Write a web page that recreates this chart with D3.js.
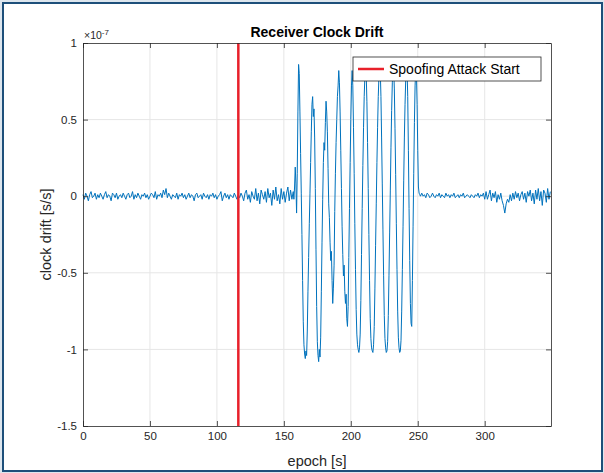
<!DOCTYPE html>
<html>
<head>
<meta charset="utf-8">
<script src="https://cdn.jsdelivr.net/npm/d3@7"></script>
<style>
  html, body { margin: 0; padding: 0; background: #dde6ee; }
  svg { display: block; }
</style>
</head>
<body>
<div id="chart"></div>
<script>
// Receiver clock drift (x 1e-7 s/s) vs epoch, with spoofing start marker

// quiet part before the attack, 1 sample per second, epochs 0..156
const preAttack = [
  0.01, -0.02, 0.02, 0.00, -0.03, 0.01, 0.03, -0.01, 0.00, 0.02,
  -0.02, 0.01, -0.01, 0.02, 0.00, -0.02, 0.01, 0.03, -0.01, 0.01,
  0.00, -0.03, 0.02, 0.01, -0.01, 0.02, -0.02, 0.00, 0.01, -0.01,
  0.02, 0.00, -0.02, 0.01, 0.02, -0.01, 0.00, 0.03, -0.02, 0.01,
  -0.01, 0.02, 0.00, -0.02, 0.01, 0.00, 0.02, -0.01, 0.01, -0.02,
  0.00, 0.02, 0.01, -0.01, 0.03, -0.02, 0.01, 0.00, 0.02, -0.01,
  0.04, 0.01, 0.05, -0.01, 0.02, 0.00, -0.02, 0.01, 0.00, -0.01,
  0.02, -0.02, 0.01, 0.00, 0.02, -0.01, 0.01, -0.02, 0.00, 0.02,
  -0.01, 0.01, 0.00, -0.03, 0.01, 0.02, -0.01, 0.00, 0.01, -0.02,
  0.02, 0.00, -0.01, 0.01, -0.02, 0.01, 0.00, 0.02, -0.01, 0.01,
  -0.02, 0.00, 0.01, 0.03, -0.03, 0.00, 0.02, -0.01, 0.01, -0.02,
  0.01, 0.00, -0.01, 0.02, 0.00, -0.02, 0.01, -0.01, 0.02, 0.00,
  -0.03, 0.02, 0.04, -0.02, 0.01, -0.04, 0.03, 0.00, -0.02, 0.05,
  -0.03, 0.02, -0.05, 0.04, 0.01, -0.02, 0.03, -0.04, 0.05, -0.01,
  0.02, -0.06, 0.04, -0.02, 0.06, -0.03, 0.01, -0.05, 0.05, -0.02,
  0.03, -0.04, 0.02, 0.06, -0.03, 0.04, -0.02
];
const preStart = 0, preStep = 1;

// oscillating part during the attack, every 0.5 s, epochs 157..252
const attack = [
  0.03, -0.02, 0.06, 0.19, 0.08, -0.11, 0.15, 0.55, 0.86, 0.80,
  0.55, 0.28, 0.02, -0.25, -0.55, -0.82, -0.97, -1.03, -1.06, -1.01,
  -1.04, -0.88, -0.62, -0.40, -0.18, 0.02, 0.22, 0.42, 0.60, 0.65,
  0.52, 0.57, 0.38, 0.05, -0.35, -0.72, -0.95, -1.04, -1.08, -1.00,
  -1.05, -0.92, -0.62, -0.30, -0.02, 0.22, 0.35, 0.30, 0.48, 0.62,
  0.55, 0.42, 0.18, -0.05, -0.14, -0.30, -0.42, -0.36, -0.55, -0.70,
  -0.60, -0.45, -0.10, 0.15, 0.35, 0.50, 0.65, 0.72, 0.82, 0.74,
  0.55, 0.30, 0.05, -0.20, -0.38, -0.52, -0.45, -0.62, -0.70, -0.64,
  -0.80, -0.85, -0.72, -0.40, -0.08, 0.22, 0.50, 0.72, 0.82, 0.72,
  0.45, 0.15, -0.18, -0.48, -0.74, -0.90, -0.97, -1.00, -1.02, -0.99,
  -0.90, -0.68, -0.38, -0.08, 0.20, 0.45, 0.65, 0.78, 0.84, 0.80,
  0.62, 0.35, 0.05, -0.25, -0.55, -0.80, -0.93, -0.99, -1.01, -1.02,
  -0.97, -0.85, -0.60, -0.32, -0.05, 0.22, 0.45, 0.65, 0.78, 0.84,
  0.82, 0.65, 0.38, 0.08, -0.22, -0.52, -0.78, -0.93, -0.99, -1.02,
  -1.01, -0.95, -0.78, -0.52, -0.24, 0.04, 0.32, 0.56, 0.74, 0.83,
  0.84, 0.70, 0.44, 0.14, -0.18, -0.48, -0.75, -0.92, -0.99, -1.02,
  -1.01, -0.94, -0.75, -0.48, -0.20, 0.10, 0.38, 0.60, 0.76, 0.84,
  0.83, 0.65, 0.30, -0.08, -0.42, -0.70, -0.83, -0.85, -0.55, -0.20,
  0.15, 0.48, 0.72, 0.84, 0.80, 0.60, 0.30, 0.06, 0.02, 0.01,
  0.00
];
const attackStart = 157, attackStep = 0.5;

// after the attack, 1 sample per second, epochs 253..349
const postAttack = [
  0.02, 0.00, 0.01, -0.01, 0.02, 0.01, -0.01, 0.00, 0.02, 0.00,
  -0.01, 0.01, 0.00, 0.02, -0.01, 0.01, 0.00, -0.01, 0.02, 0.00,
  0.01, -0.01, 0.01, 0.00, 0.02, -0.01, 0.00, 0.01, -0.01, 0.01,
  0.00, 0.02, -0.01, 0.00, 0.01, 0.00, -0.01, 0.01, 0.00, -0.01,
  0.01, 0.00, 0.02, -0.01, 0.01, 0.00, 0.02, -0.02,
  0.03, -0.02, 0.01, 0.04, -0.03, 0.02, -0.01, 0.03, -0.04, 0.01,
  -0.02, 0.02, -0.03, -0.06, -0.11, -0.05, -0.02, -0.04, 0.01, -0.03,
  0.02, -0.02, 0.03, -0.01, 0.02, -0.03, 0.01, 0.03, -0.02, 0.02,
  -0.04, 0.03, 0.00, 0.04, -0.03, 0.02, -0.05, 0.04, -0.02, 0.05,
  -0.03, 0.03, -0.06, 0.04, 0.02, -0.04, 0.05, -0.02, 0.03
];
const postStart = 253, postStep = 1;

const attackEpoch = 116;
const xTicks = [0, 50, 100, 150, 200, 250, 300];
const yTicks = [-1.5, -1, -0.5, 0, 0.5, 1];
const xDomain = [0, 349.5];
const yDomain = [-1.5, 1];

const palette = {
  frame: '#1d4f7a',
  axis: '#262626',
  grid: '#e6e6e6',
  line: '#0072bd',
  attack: '#e8202a',
  text: '#262626'
};
const FONT = '"Liberation Sans", Arial, Helvetica, sans-serif';

const W = 604, H = 473;
const plot = { left: 83, right: 551, top: 43, bottom: 426 };

function toPoints(vals, start, step) {
  return vals.map((v, i) => ({ t: start + i * step, v: v }));
}
const series = [].concat(
  toPoints(preAttack, preStart, preStep),
  toPoints(attack, attackStart, attackStep),
  toPoints(postAttack, postStart, postStep)
);

const svg = d3.select('#chart').append('svg')
  .attr('width', W).attr('height', H)
  .style('font-family', FONT);

// outer panel with dark border
svg.append('rect')
  .attr('x', 3).attr('y', 3)
  .attr('width', W - 5).attr('height', H - 5)
  .attr('fill', '#ffffff')
  .attr('stroke', palette.frame)
  .attr('stroke-width', 2);

const x = d3.scaleLinear().domain(xDomain).range([plot.left, plot.right]);
const y = d3.scaleLinear().domain(yDomain).range([plot.bottom, plot.top]);

// grid
svg.append('g')
  .selectAll('line.gx')
  .data(xTicks.slice(1))
  .enter().append('line')
  .attr('x1', (d) => x(d)).attr('x2', (d) => x(d))
  .attr('y1', plot.top).attr('y2', plot.bottom)
  .attr('stroke', palette.grid).attr('stroke-width', 1);
svg.append('g')
  .selectAll('line.gy')
  .data(yTicks.slice(1, -1))
  .enter().append('line')
  .attr('x1', plot.left).attr('x2', plot.right)
  .attr('y1', (d) => y(d)).attr('y2', (d) => y(d))
  .attr('stroke', palette.grid).attr('stroke-width', 1);

// data line
const line = d3.line().x((d) => x(d.t)).y((d) => y(d.v));
svg.append('path')
  .datum(series)
  .attr('d', line)
  .attr('fill', 'none')
  .attr('stroke', palette.line)
  .attr('stroke-width', 1)
  .attr('stroke-linejoin', 'round');

// attack start marker
svg.append('line')
  .attr('x1', x(attackEpoch)).attr('x2', x(attackEpoch))
  .attr('y1', y(yDomain[1])).attr('y2', y(yDomain[0]))
  .attr('stroke', palette.attack)
  .attr('stroke-width', 2.5);

// axes (ticks point inward, box on)
function styleAxis(g) {
  g.select('.domain').attr('stroke', palette.axis).attr('stroke-width', 0.8);
  g.selectAll('.tick line').attr('stroke', palette.axis).attr('stroke-width', 0.8);
  g.selectAll('text').attr('fill', palette.text).style('font-size', '11.5px').style('font-family', FONT);
}
svg.append('g')
  .attr('transform', `translate(0,${plot.bottom})`)
  .call(d3.axisBottom(x).tickValues(xTicks).tickSizeInner(-5).tickSizeOuter(0).tickPadding(6))
  .call(styleAxis);
svg.append('g')
  .attr('transform', `translate(0,${plot.top})`)
  .call(d3.axisTop(x).tickValues(xTicks).tickSizeInner(-5).tickSizeOuter(0).tickFormat(''))
  .call(styleAxis);
svg.append('g')
  .attr('transform', `translate(${plot.left},0)`)
  .call(d3.axisLeft(y).tickValues(yTicks).tickSizeInner(-5).tickSizeOuter(0).tickPadding(6)
    .tickFormat((d) => (d === 0 ? '0' : String(d))))
  .call(styleAxis);
svg.append('g')
  .attr('transform', `translate(${plot.right},0)`)
  .call(d3.axisRight(y).tickValues(yTicks).tickSizeInner(-5).tickSizeOuter(0).tickFormat(''))
  .call(styleAxis);

// exponent label
const expo = svg.append('text')
  .attr('x', plot.left + 1).attr('y', plot.top - 4)
  .attr('fill', palette.text)
  .style('font-size', '10.5px');
expo.append('tspan').text('\u00d710');
expo.append('tspan').attr('dy', -4).style('font-size', '8px').text('-7');

// title and axis labels
svg.append('text')
  .attr('x', (plot.left + plot.right) / 2).attr('y', 37)
  .attr('text-anchor', 'middle')
  .attr('fill', '#000')
  .style('font-size', '14px').style('font-weight', 'bold')
  .text('Receiver Clock Drift');
svg.append('text')
  .attr('x', (plot.left + plot.right) / 2).attr('y', 466)
  .attr('text-anchor', 'middle')
  .attr('fill', palette.text)
  .style('font-size', '14.5px')
  .text('epoch [s]');
svg.append('text')
  .attr('transform', `translate(51,${(plot.top + plot.bottom) / 2}) rotate(-90)`)
  .attr('text-anchor', 'middle')
  .attr('fill', palette.text)
  .style('font-size', '14.5px')
  .text('clock drift [s/s]');

// legend
const lg = svg.append('g').attr('transform', 'translate(353,57)');
lg.append('rect')
  .attr('width', 188).attr('height', 24)
  .attr('fill', '#fff')
  .attr('stroke', palette.axis).attr('stroke-width', 0.8);
lg.append('line')
  .attr('x1', 5).attr('x2', 31).attr('y1', 12).attr('y2', 12)
  .attr('stroke', palette.attack).attr('stroke-width', 2.5);
lg.append('text')
  .attr('x', 36).attr('y', 17)
  .attr('fill', '#000')
  .style('font-size', '14px')
  .text('Spoofing Attack Start');
</script>
</body>
</html>
